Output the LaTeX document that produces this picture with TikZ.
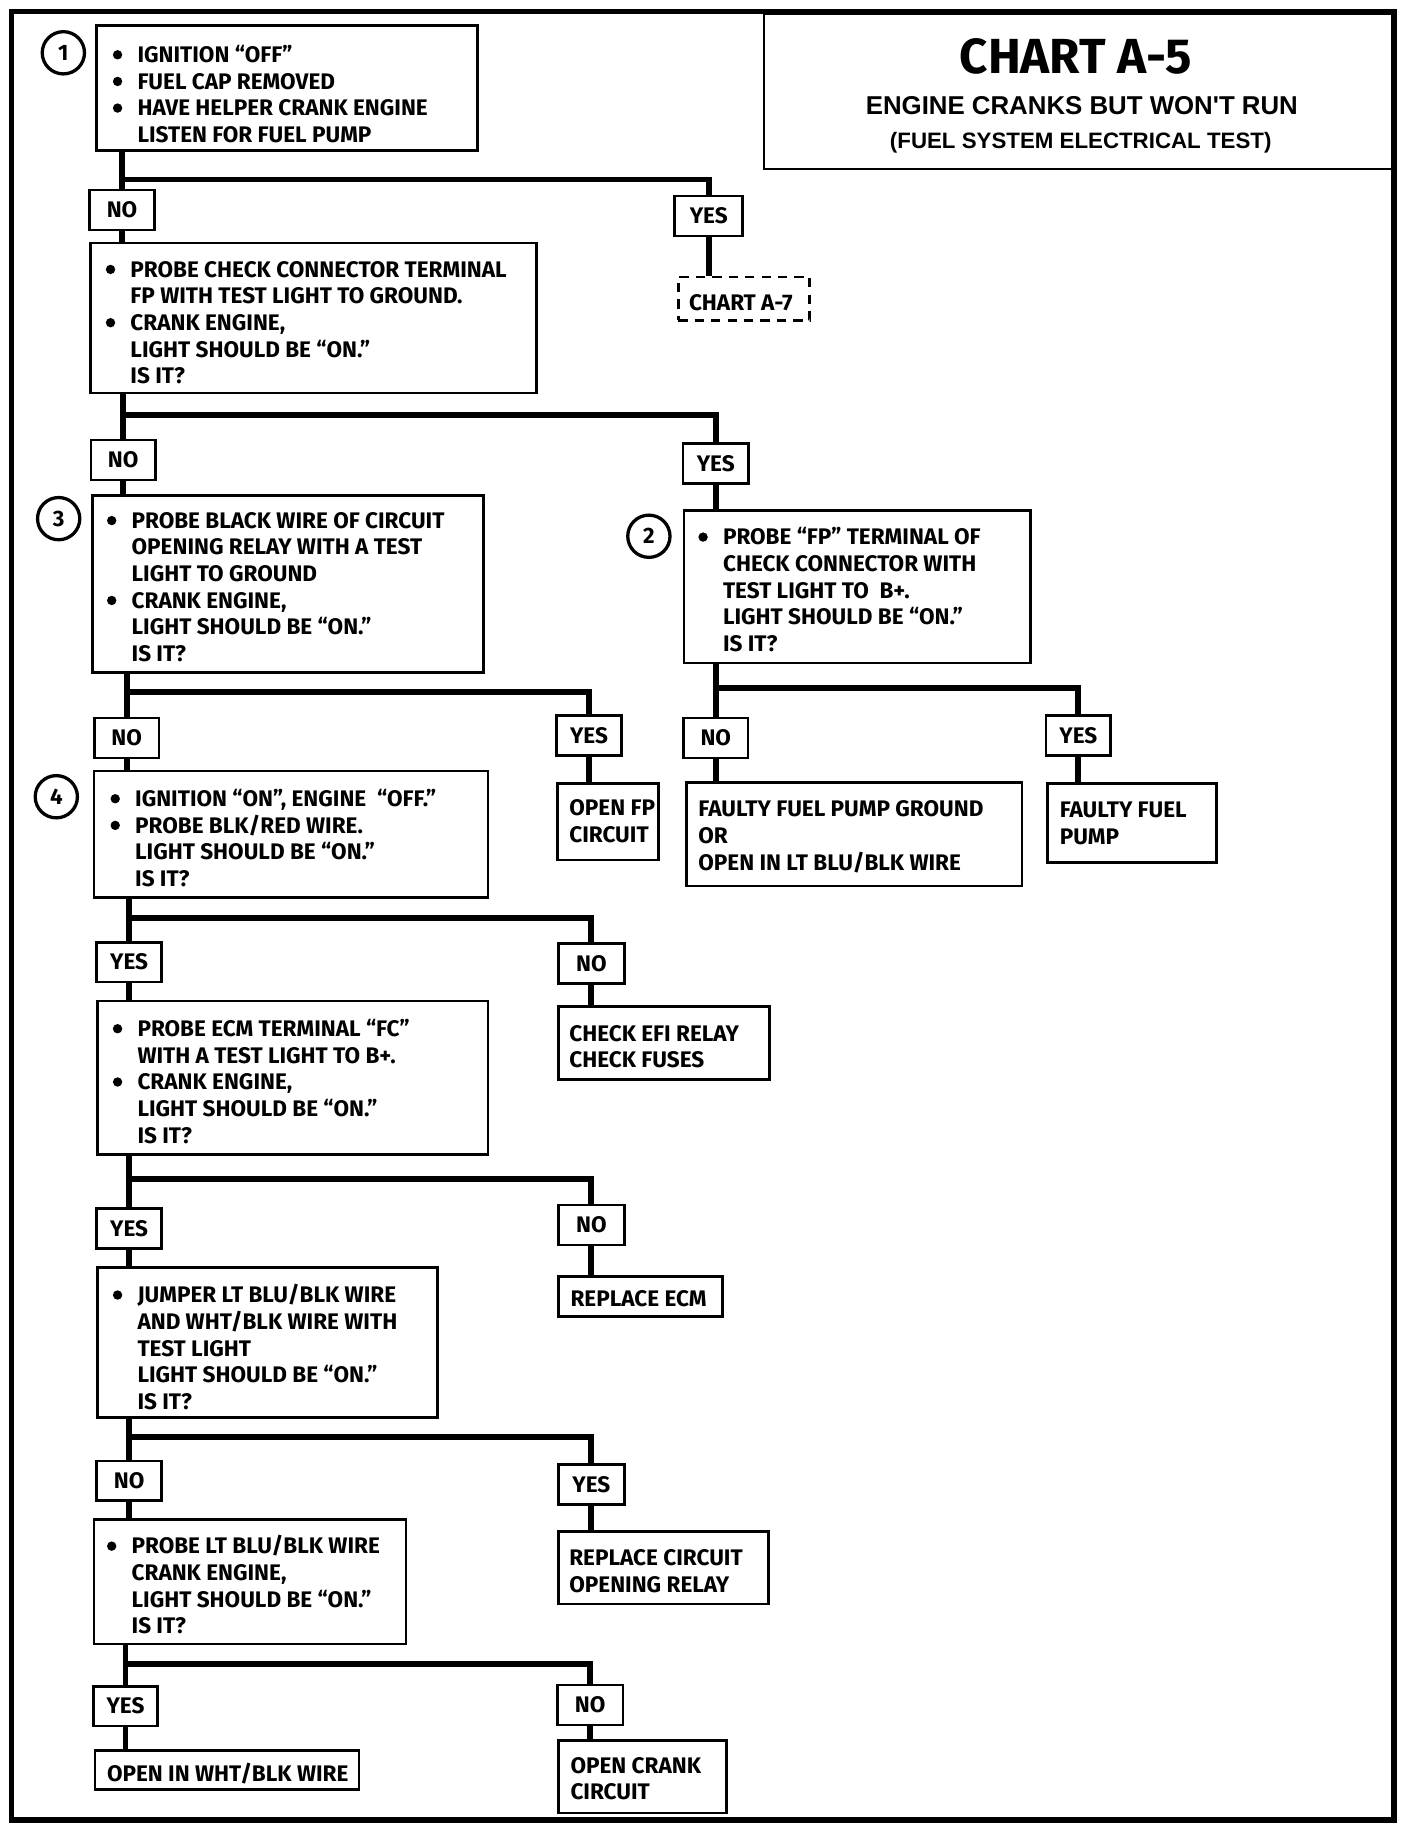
\documentclass[tikz,border=0pt]{standalone}
\usepackage{fontspec}
\setmainfont{Fira Sans}
\newfontfamily\arl{Liberation Sans}
\usetikzlibrary{fit}
\newcommand\bul{\makebox[22pt][l]{\hspace*{1pt}\raisebox{2.6pt}{\tikz\fill (0pt,0pt) circle[radius=4pt];}}}
\newcommand\ind{\hspace*{22pt}}
\tikzset{
 boxst/.style={draw, line width=2.3pt, inner sep=0pt, rectangle},
 dbox/.style={draw, line width=2.3pt, inner sep=0pt, rectangle, dash pattern=on 8pt off 6pt},
 txt/.style={inner sep=0pt, align=left, anchor=north west, font=\fontsize{19.2pt}{22.7pt}\selectfont\bfseries},
 lab/.style={draw, line width=2.3pt, inner sep=0pt, minimum width=55pt, minimum height=34pt, font=\fontsize{19.2pt}{22.7pt}\selectfont\bfseries},
 conn/.style={line width=5pt},
 circ/.style={circle, draw, line width=2.8pt, minimum size=36pt, inner sep=0pt, font=\fontsize{19pt}{19pt}\selectfont\bfseries},
 framest/.style={line width=4.5pt},
}
\begin{document}
\begin{tikzpicture}[x=1pt,y=-1pt]
\useasboundingbox (0,0) rectangle (1200,1563);
\fill[white] (0,0) rectangle (1200,1563);
% frame
\draw[framest] (10,10) rectangle (1188,1551);
% title
\node[boxst, fit={(651,12) (1187,144)}] (title) {};
\node (tt1) at (917,48) {\fontsize{42pt}{42pt}\selectfont\bfseries CHART A-5};
\node (tt2) at (922,90) {\arl\fontsize{22pt}{22pt}\selectfont\bfseries ENGINE CRANKS BUT WON'T RUN};
\node (tt3) at (921,122) {\arl\fontsize{19pt}{19pt}\selectfont\bfseries (FUEL SYSTEM ELECTRICAL TEST)};

% circles
\node[circ] (c1) at (54,45) {1};
\node[circ] (c3) at (50,442) {3};
\node[circ] (c2) at (553,457) {2};
\node[circ] (c4) at (48,679) {4};

% step boxes
\node[boxst, fit={(82,22) (407,128)}] (b1) {};
\node[txt] (b1t) at (95,38.4) {\bul IGNITION “OFF”\\ \bul FUEL CAP REMOVED\\ \bul HAVE HELPER CRANK ENGINE\\ \ind LISTEN FOR FUEL PUMP};

\node[boxst, fit={(77,207) (457,335)}] (b2) {};
\node[txt] (b2t) at (89,222.4) {\bul PROBE CHECK CONNECTOR TERMINAL\\ \ind FP WITH TEST LIGHT TO GROUND.\\ \bul CRANK ENGINE,\\ \ind LIGHT SHOULD BE “ON.”\\ \ind IS IT?};

\node[boxst, fit={(79,422) (412,573)}] (b3) {};
\node[txt] (b3t) at (90,436.4) {\bul PROBE BLACK WIRE OF CIRCUIT\\ \ind OPENING RELAY WITH A TEST\\ \ind LIGHT TO GROUND\\ \bul CRANK ENGINE,\\ \ind LIGHT SHOULD BE “ON.”\\ \ind IS IT?};

\node[boxst, fit={(583,435) (878,565)}] (p2) {};
\node[txt] (p2t) at (594,449.4) {\bul PROBE “FP” TERMINAL OF\\ \ind CHECK CONNECTOR WITH\\ \ind TEST LIGHT TO~ B+.\\ \ind LIGHT SHOULD BE “ON.”\\ \ind IS IT?};

\node[boxst, fit={(80,657) (416,765)}] (b4) {};
\node[txt] (b4t) at (93,672.4) {\bul IGNITION “ON”, ENGINE~ “OFF.”\\ \bul PROBE BLK/RED WIRE.\\ \ind LIGHT SHOULD BE “ON.”\\ \ind IS IT?};

\node[boxst, fit={(83,853) (416,984)}] (b5) {};
\node[txt] (b5t) at (95,868.4) {\bul PROBE ECM TERMINAL “FC”\\ \ind WITH A TEST LIGHT TO B+.\\ \bul CRANK ENGINE,\\ \ind LIGHT SHOULD BE “ON.”\\ \ind IS IT?};

\node[boxst, fit={(83,1080) (373,1208)}] (b6) {};
\node[txt] (b6t) at (95,1094.4) {\bul JUMPER LT BLU/BLK WIRE\\ \ind AND WHT/BLK WIRE WITH\\ \ind TEST LIGHT\\ \ind LIGHT SHOULD BE “ON.”\\ \ind IS IT?};

\node[boxst, fit={(80,1295) (346,1401)}] (b7) {};
\node[txt] (b7t) at (90,1308.4) {\bul PROBE LT BLU/BLK WIRE\\ \ind CRANK ENGINE,\\ \ind LIGHT SHOULD BE “ON.”\\ \ind IS IT?};

% result boxes
\node[dbox, fit={(578,236) (690,273)}] (a7) {};
\node[txt] (a7t) at (587,250.4) {CHART A-7};
\node[boxst, fit={(475,668) (561,733)}] (ofp) {};
\node[txt] (ofpt) at (485,681.4) {OPEN FP\\ CIRCUIT};
\node[boxst, fit={(585,667) (871,755)}] (fgr) {};
\node[txt] (fgrt) at (595,682.4) {FAULTY FUEL PUMP GROUND\\ OR\\ OPEN IN LT BLU/BLK WIRE};
\node[boxst, fit={(893,668) (1037,735)}] (ffp) {};
\node[txt] (ffpt) at (903,683.4) {FAULTY FUEL\\ PUMP};
\node[boxst, fit={(476,858) (656,920)}] (efi) {};
\node[txt] (efit) at (485,873.4) {CHECK EFI RELAY\\ CHECK FUSES};
\node[boxst, fit={(476,1088) (616,1122)}] (ecm) {};
\node[txt] (ecmt) at (486,1099.4) {REPLACE ECM};
\node[boxst, fit={(476,1305) (655,1367)}] (rly) {};
\node[txt] (rlyt) at (485,1320.4) {REPLACE CIRCUIT\\ OPENING RELAY};
\node[boxst, fit={(81,1492) (306,1525)}] (wht) {};
\node[txt] (whtt) at (91,1502.4) {OPEN IN WHT/BLK WIRE};
\node[boxst, fit={(476,1483) (619,1545)}] (crk) {};
\node[txt] (crkt) at (486,1497.4) {OPEN CRANK\\ CIRCUIT};

% yes/no labels
\node[lab] (n1) at (104,179) {NO};
\node[lab, minimum width=58pt] (y1) at (604,184) {YES};
\node[lab] (n2) at (105,392) {NO};
\node[lab, minimum width=56pt] (y2) at (610,395) {YES};
\node[lab] (n3) at (108,629) {NO};
\node[lab] (y3) at (502,627) {YES};
\node[lab] (n4) at (610,629) {NO};
\node[lab] (y4) at (919,627) {YES};
\node[lab] (y5) at (110,820) {YES};
\node[lab, minimum width=56pt] (n5) at (504,821) {NO};
\node[lab] (y6) at (110,1047) {YES};
\node[lab, minimum width=56pt] (n6) at (504,1044) {NO};
\node[lab] (n7) at (110,1262) {NO};
\node[lab, minimum width=56pt] (y7) at (504,1265) {YES};
\node[lab] (y8) at (107,1454) {YES};
\node[lab, minimum width=56pt] (n8) at (503,1453) {NO};

% junction points
\coordinate (j1) at (104,153);
\coordinate (j2) at (105,354);
\coordinate (j3) at (108,590);
\coordinate (j4) at (610,586);
\coordinate (j5) at (110,782);
\coordinate (j6) at (110,1005);
\coordinate (j7) at (110,1225);
\coordinate (j8) at (107,1418);

% connectors
\draw[conn] (n1.north |- b1.south) -- (n1.north);
\draw[conn] (n1.south) -- (n1.south |- b2.north);
\draw[conn] (j1) -| (y1.north);
\draw[conn] (y1.south) -- (y1.south |- a7.north);

\draw[conn] (n2.north |- b2.south) -- (n2.north);
\draw[conn] (n2.south) -- (n2.south |- b3.north);
\draw[conn] (j2) -| (y2.north);
\draw[conn] (y2.south) -- (y2.south |- p2.north);

\draw[conn] (n3.north |- b3.south) -- (n3.north);
\draw[conn] (n3.south) -- (n3.south |- b4.north);
\draw[conn] (j3) -| (y3.north);
\draw[conn] (y3.south) -- (y3.south |- ofp.north);

\draw[conn] (n4.north |- p2.south) -- (n4.north);
\draw[conn] (n4.south) -- (n4.south |- fgr.north);
\draw[conn] (j4) -| (y4.north);
\draw[conn] (y4.south) -- (y4.south |- ffp.north);

\draw[conn] (y5.north |- b4.south) -- (y5.north);
\draw[conn] (y5.south) -- (y5.south |- b5.north);
\draw[conn] (j5) -| (n5.north);
\draw[conn] (n5.south) -- (n5.south |- efi.north);

\draw[conn] (y6.north |- b5.south) -- (y6.north);
\draw[conn] (y6.south) -- (y6.south |- b6.north);
\draw[conn] (j6) -| (n6.north);
\draw[conn] (n6.south) -- (n6.south |- ecm.north);

\draw[conn] (n7.north |- b6.south) -- (n7.north);
\draw[conn] (n7.south) -- (n7.south |- b7.north);
\draw[conn] (j7) -| (y7.north);
\draw[conn] (y7.south) -- (y7.south |- rly.north);

\draw[conn] (y8.north |- b7.south) -- (y8.north);
\draw[conn] (y8.south) -- (y8.south |- wht.north);
\draw[conn] (j8) -| (n8.north);
\draw[conn] (n8.south) -- (n8.south |- crk.north);
\end{tikzpicture}
\end{document}
